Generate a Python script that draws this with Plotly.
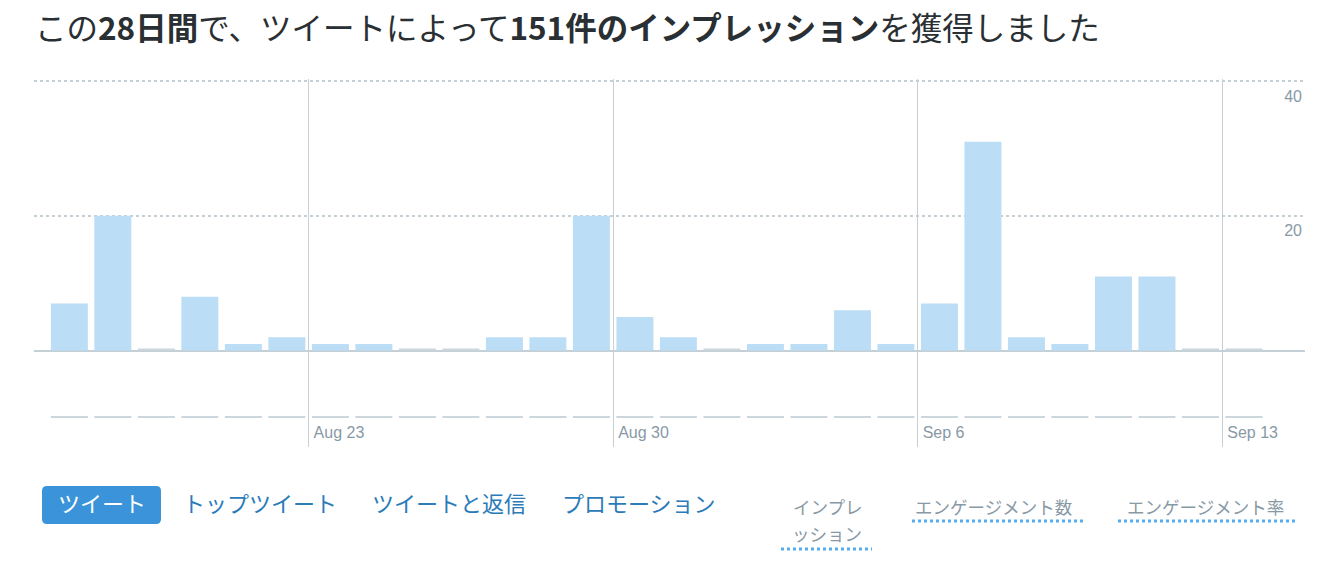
import plotly.graph_objects as go
import pandas as pd

# ---------------- data ----------------
DATES = pd.date_range("2020-08-17", "2020-09-13", freq="D")
IMPRESSIONS = [7, 20, 0, 8, 1, 2, 1, 1, 0, 0, 2, 2, 20, 5,
               2, 0, 1, 1, 6, 1, 7, 31, 2, 1, 11, 11, 0, 0]
ENGAGEMENTS = [0] * 28
TICK_DATES = ["2020-08-23", "2020-08-30", "2020-09-06", "2020-09-13"]
TICK_LABELS = ["Aug 23", "Aug 30", "Sep 6", "Sep 13"]
Y_TICKS = [20, 40]
Y_TICK_LABELS = ["20", "40"]

TITLE_HTML = ("この<b>28日間</b>で、ツイートによって<b>151件のインプレッション</b>を獲得しました")
TABS = ["ツイート", "トップツイート", "ツイートと返信", "プロモーション"]
METRIC_LINES = [["インプレ", "ッション"], ["エンゲージメント数"], ["エンゲージメント率"]]

# ---------------- styles ----------------
W, H = 1320, 562
L, R, T, B = 34, 15, 79, 115
PW, PH = W - L - R, H - T - B
BAR_COLOR = "#bbddf5"
ZERO_COLOR = "#ccd6dd"
GRID = "#c4cfd6"
GREY = "#8899a6"
BLUE_TEXT = "#2b7bb9"
BTN = "#3b94d9"
DOT = "#55acee"
JP = "Noto Sans CJK JP, Noto Sans, sans-serif"
LAT = "Liberation Sans, Arial, sans-serif"
STUB_MAIN = 0.3
STUB_ENG = 0.06


def px(xp):
    return (xp - L) / PW


def py(yp):
    return (H - B - yp) / PH


main_vals = [v if v > 0 else STUB_MAIN for v in IMPRESSIONS]
main_cols = [BAR_COLOR if v > 0 else ZERO_COLOR for v in IMPRESSIONS]
eng_vals = [v if v > 0 else STUB_ENG for v in ENGAGEMENTS]
eng_cols = [BAR_COLOR if v > 0 else ZERO_COLOR for v in ENGAGEMENTS]

fig = go.Figure()
fig.add_trace(go.Bar(
    x=DATES, y=main_vals, marker=dict(color=main_cols, line=dict(width=0)),
    xperiod=86400000, xperiodalignment="middle", name="インプレッション",
))
fig.add_trace(go.Bar(
    x=DATES, y=eng_vals, marker=dict(color=eng_cols, line=dict(width=0)),
    xperiod=86400000, xperiodalignment="middle", yaxis="y2", name="エンゲージメント",
))

shapes = []
annotations = []


def rr_path(x0, x1, y0, y1, r):
    X, Y = px, py
    return (f"M {X(x0+r)},{Y(y0)} L {X(x1-r)},{Y(y0)} Q {X(x1)},{Y(y0)} {X(x1)},{Y(y0+r)} "
            f"L {X(x1)},{Y(y1-r)} Q {X(x1)},{Y(y1)} {X(x1-r)},{Y(y1)} "
            f"L {X(x0+r)},{Y(y1)} Q {X(x0)},{Y(y1)} {X(x0)},{Y(y1-r)} "
            f"L {X(x0)},{Y(y0+r)} Q {X(x0)},{Y(y0)} {X(x0+r)},{Y(y0)} Z")


shapes.append(dict(type="path", xref="paper", yref="paper", path=rr_path(42, 161, 486, 524, 5),
                   fillcolor=BTN, line=dict(width=0), layer="above"))

tab_centers = [101.5, 259.5, 449, 639]
for i, (t, cx) in enumerate(zip(TABS, tab_centers)):
    annotations.append(dict(
        text=t, x=px(cx), y=py(502), xref="paper", yref="paper",
        xanchor="center", yanchor="middle", showarrow=False,
        font=dict(family=JP, size=22, color="white" if i == 0 else BLUE_TEXT),
    ))

metric_pos = [(827, [506, 533]), (993, [506]), (1205, [506])]
for lines, (cx, ys) in zip(METRIC_LINES, metric_pos):
    for t, cy in zip(lines, ys):
        annotations.append(dict(
            text=t, x=px(cx), y=py(cy), xref="paper", yref="paper",
            xanchor="center", yanchor="middle", showarrow=False,
            font=dict(family=JP, size=17.5, color=GREY),
        ))

underlines = [(781, 872, 549), (912, 1083, 521), (1118, 1295, 521)]
for a, b, yy in underlines:
    shapes.append(dict(type="line", xref="paper", yref="paper",
                       x0=px(a), x1=px(b), y0=py(yy), y1=py(yy),
                       line=dict(color=DOT, width=3, dash="dot")))

fig.update_layout(
    width=W, height=H,
    margin=dict(l=L, r=R, t=T, b=B, pad=0),
    paper_bgcolor="white", plot_bgcolor="white",
    showlegend=False, barmode="overlay", bargap=0.15,
    title=dict(text=TITLE_HTML, x=35 / W, xref="container", xanchor="left",
               y=1 - 29 / H, yref="container", yanchor="middle",
               font=dict(family=JP, size=31.5, color="#292f33")),
    xaxis=dict(
        type="date",
        range=["2020-08-16 16:30", "2020-09-14 21:40"],
        tickvals=TICK_DATES, ticktext=TICK_LABELS,
        ticklabelposition="inside right", ticklabelshift=5,
        showgrid=True, gridcolor=GRID, gridwidth=1,
        ticks="", showline=False, zeroline=False,
        tickfont=dict(family=LAT, size=16, color=GREY),
        fixedrange=True,
    ),
    yaxis=dict(
        range=[-14.3, 40.3], side="right",
        tickvals=Y_TICKS, ticktext=Y_TICK_LABELS,
        ticklabelposition="inside", ticklabelshift=15,
        showgrid=True, gridcolor=GRID, gridwidth=1.5, griddash="dot",
        zeroline=True, zerolinecolor=GRID, zerolinewidth=2,
        ticks="", showline=False,
        tickfont=dict(family=LAT, size=16, color=GREY),
        fixedrange=True,
    ),
    yaxis2=dict(
        range=[-0.96, 11.2], overlaying="y", visible=False, fixedrange=True,
    ),
    shapes=shapes,
    annotations=annotations,
)

fig.write_html("out.html", config={"displayModeBar": False},
               post_script="document.body.style.margin='0';")
